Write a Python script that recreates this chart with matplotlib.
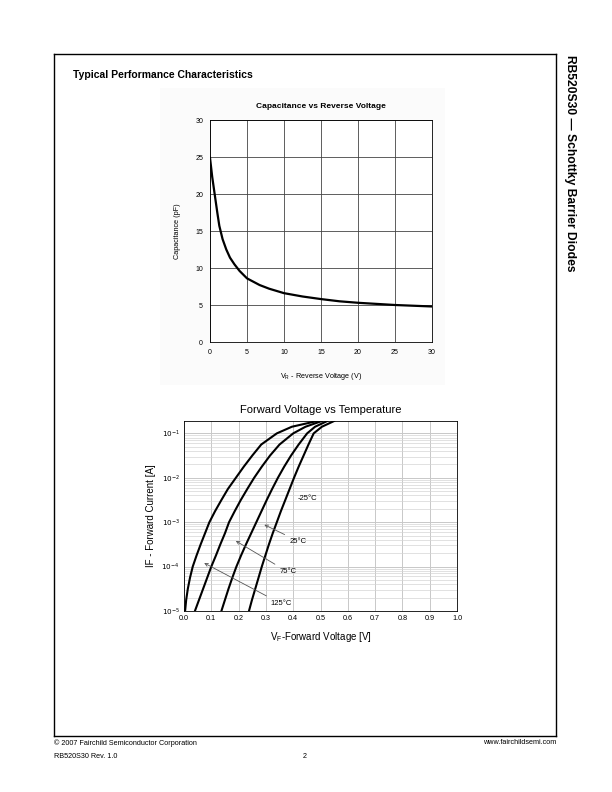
import numpy as np
import matplotlib
matplotlib.use('Agg')
import matplotlib.pyplot as plt

plt.rcParams['font.family'] = ['Liberation Sans', 'DejaVu Sans']

# Capacitance vs reverse voltage
vr = [0, 0.3, 0.6, 1.0, 1.26, 1.7, 2.2, 2.7, 3.3, 4, 5, 6.7, 8, 10, 12.5, 15,
      17.5, 20, 22.5, 25, 27.5, 30]
cap_pf = [24.9, 22.3, 20.2, 17.4, 15.7, 13.9, 12.5, 11.4, 10.5, 9.6, 8.6, 7.7,
          7.2, 6.6, 6.15, 5.8, 5.5, 5.3, 5.15, 5.0, 4.9, 4.8]

# Forward current levels (A) and forward voltage (V) per temperature
if_levels = [1e-5, 1.78e-5, 3.16e-5, 5.62e-5, 1e-4, 1.78e-4, 3.16e-4, 5.62e-4,
             1e-3, 1.78e-3, 3.16e-3, 5.62e-3, 1e-2, 1.78e-2, 3.16e-2, 5.62e-2,
             1e-1, 0.141, 0.19]
vf_125 = [0.004, 0.008, 0.014, 0.022, 0.032, 0.046, 0.061, 0.077, 0.093, 0.114,
          0.137, 0.161, 0.190, 0.219, 0.250, 0.283, 0.340, 0.395, 0.488]
vf_75 = [0.040, 0.055, 0.070, 0.085, 0.100, 0.117, 0.133, 0.150, 0.165, 0.186,
         0.208, 0.232, 0.257, 0.285, 0.315, 0.350, 0.400, 0.445, 0.505]
vf_25 = [0.137, 0.150, 0.163, 0.177, 0.192, 0.209, 0.227, 0.246, 0.265, 0.284,
         0.303, 0.323, 0.344, 0.367, 0.392, 0.420, 0.451, 0.480, 0.525]
vf_m25 = [0.238, 0.249, 0.261, 0.273, 0.285, 0.298, 0.311, 0.325, 0.340, 0.355,
          0.371, 0.387, 0.403, 0.420, 0.438, 0.456, 0.475, 0.505, 0.550]
temp_labels = ['125°C', '75°C', '25°C', '-25°C']

fig = plt.figure(figsize=(6.12, 7.92), dpi=100)


# helpers: page pixel -> figure fraction
def fx(px):
    return px / 612.0


def fy(py):
    return 1 - py / 792.0


# page frame
frame = fig.add_axes([fx(54), fy(736), fx(556 - 54), (736 - 54) / 792.0])
frame.set_xticks([])
frame.set_yticks([])
frame.patch.set_alpha(0)
for s in frame.spines.values():
    s.set_linewidth(1.0)

fig.text(fx(73), fy(75), 'Typical Performance Characteristics', fontsize=7.5,
         fontweight='bold', va='center', ha='left')
fig.text(fx(570), fy(55), 'RB520S30 \u2014 Schottky Barrier Diodes', fontsize=8.7,
         fontweight='bold', rotation=-90, va='top', ha='center')

# footer
fig.text(fx(54), fy(743), '© 2007 Fairchild Semiconductor Corporation', fontsize=5.2, va='center')
fig.text(fx(54), fy(756), 'RB520S30 Rev. 1.0', fontsize=5.2, va='center')
fig.text(fx(305), fy(756), '2', fontsize=5.2, va='center', ha='center')
fig.text(fx(556), fy(743), 'www.fairchildsemi.com', fontsize=5.2, va='center', ha='right')

# ---- top chart: capacitance ----
bg = fig.add_axes([fx(160), fy(385), fx(445 - 160), (385 - 88) / 792.0])
bg.set_xticks([])
bg.set_yticks([])
bg.set_facecolor('#fbfbfb')
for s in bg.spines.values():
    s.set_visible(False)

ax1 = fig.add_axes([fx(210), fy(342), fx(222), 222 / 792.0])
ax1.plot(vr, cap_pf, color='black', linewidth=1.6)
ax1.set_xlim(0, 30)
ax1.set_ylim(0, 30)
ax1.set_xticks(range(0, 31, 5))
ax1.set_yticks(range(0, 31, 5))
ax1.grid(True, color='#444444', linewidth=0.6)
ax1.tick_params(length=0, labelsize=5, pad=5)
for s in ax1.spines.values():
    s.set_linewidth(0.6)
ax1.set_title('Capacitance vs Reverse Voltage', fontsize=6, fontweight='bold', pad=9)
ax1.set_xlabel('V$_\\mathregular{R}$ - Reverse Voltage (V)', fontsize=5.2, labelpad=11)
ax1.set_ylabel('Capacitance (pF)', fontsize=5.2, labelpad=10)

# ---- bottom chart: forward voltage vs temperature ----
ax2 = fig.add_axes([fx(184), fy(611), fx(273), 190 / 792.0])
for vf in [vf_125, vf_75, vf_25, vf_m25]:
    ax2.plot(vf, if_levels, color='black', linewidth=1.5)
ax2.set_yscale('log')
ax2.set_xlim(0, 1.0)
ax2.set_ylim(1e-5, 0.19)
ax2.set_xticks(np.arange(0, 1.01, 0.1))
ax2.set_xticklabels(['%.1f' % v for v in np.arange(0, 1.01, 0.1)])
ax2.set_yticks([1e-5, 1e-4, 1e-3, 1e-2, 1e-1])
ax2.set_yticklabels(['$10^{-5}$', '$10^{-4}$', '$10^{-3}$', '$10^{-2}$', '$10^{-1}$'])
ax2.grid(True, which='major', color='#c8c8c8', linewidth=0.7)
ax2.grid(True, which='minor', axis='y', color='#d4d4d4', linewidth=0.5)
ax2.tick_params(which='both', length=0, labelsize=5.2, pad=3)
for s in ax2.spines.values():
    s.set_linewidth(0.6)
ax2.set_title('Forward Voltage vs Temperature', fontsize=8, pad=6)
ax2.set_xlabel('V$_\\mathregular{F}$-Forward Voltage [V]', fontsize=7, labelpad=6)
ax2.set_ylabel('IF - Forward Current [A]', fontsize=7, labelpad=4)

# temperature labels and arrows
ax2.text(0.415, 10 ** -2.47, temp_labels[3], fontsize=5.5, va='center')
arrow = dict(arrowstyle='->', color='#555555', linewidth=0.6)
ax2.annotate(temp_labels[2], xy=(0.285, 10 ** -3.03), xytext=(0.388, 10 ** -3.43),
             fontsize=5.5, va='center', arrowprops=arrow)
ax2.annotate(temp_labels[1], xy=(0.181, 10 ** -3.39), xytext=(0.349, 10 ** -4.12),
             fontsize=5.5, va='center', arrowprops=arrow)
ax2.annotate(temp_labels[0], xy=(0.065, 10 ** -3.89), xytext=(0.315, 10 ** -4.83),
             fontsize=5.5, va='center', arrowprops=arrow)

fig.savefig('out.png', dpi=100)
